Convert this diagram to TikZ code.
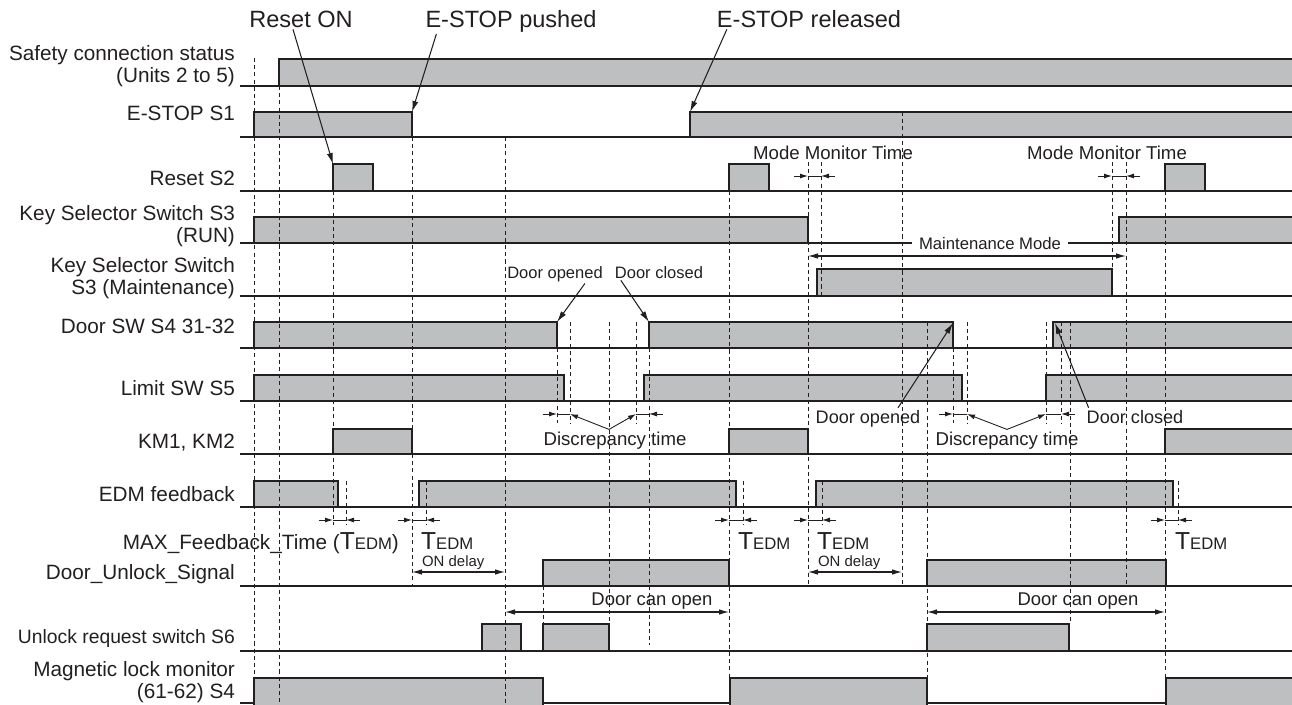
\documentclass[tikz,border=0pt]{standalone}
\usepackage{fontspec}
\setmainfont{Liberation Sans}
\usepackage{tikz}
\usetikzlibrary{arrows.meta, positioning}
\definecolor{pulsegray}{RGB}{190,191,193}
\definecolor{inkgray}{RGB}{35,31,32}

% T with small EDM
\newcommand{\tedm}{{\fontsize{14}{14}\selectfont T}{\fontsize{9.5}{10}\selectfont EDM}}
% arrows pointing in on two guide lines
\newcommand{\gapmark}[2]{%
  \draw[gaparrow] ([xshift=-0.28cm]#1) -- (#1);
  \draw[gapline] (#1) -- (#2);
  \draw[gaparrow] ([xshift=0.28cm]#2) -- (#2);}

\begin{document}
\begin{tikzpicture}[
    x=0.02cm, y=-0.02cm,
    font=\fontsize{11.8}{12.2}\selectfont,
    rowlabel/.style={anchor=base east, align=right, inner sep=1pt, text=inkgray},
    tag/.style={inner sep=1pt, text=inkgray},
    pulse/.style={draw=inkgray, fill=pulsegray, line width=0.7pt},
    rowline/.style={draw=inkgray, line width=0.8pt},
    guide/.style={draw=inkgray, line width=0.5pt, dash pattern=on 2.3pt off 1.8pt},
    leader/.style={-{Latex[length=2.2mm, width=1.2mm]}, draw=inkgray, line width=0.6pt},
    gaparrow/.style={-{Latex[length=1.6mm, width=1mm]}, draw=inkgray, line width=0.5pt},
    gapline/.style={draw=inkgray, line width=0.5pt},
    span/.style={{Latex[length=2mm, width=1.1mm]}-{Latex[length=2mm, width=1.1mm]}, draw=inkgray, line width=0.6pt},
]
\useasboundingbox (0,0) rectangle (1292,704);

% Row labels (base = last line)
\node[rowlabel] (lSafety) at (237,82) {Safety connection status\\(Units 2 to 5)};
\node[rowlabel] (lEstop) at (237,120) {E-STOP S1};
\node[rowlabel] (lReset) at (237,185) {Reset S2};
\node[rowlabel] (lRun) at (237,242) {Key Selector Switch S3\\(RUN)};
\node[rowlabel] (lMaint) at (237,294) {Key Selector Switch\\S3 (Maintenance)};
\node[rowlabel] (lDoor) at (237,333) {Door SW S4 31-32};
\node[rowlabel] (lLimit) at (237,395) {Limit SW S5};
\node[rowlabel] (lKm) at (237,448) {KM1, KM2};
\node[rowlabel] (lEdm) at (237,501) {EDM feedback};
\node[rowlabel] (lMaxfb) at (401,549) {MAX\_Feedback\_Time (\tedm)};
\node[rowlabel] (lUnlock) at (237,579) {Door\_Unlock\_Signal};
\node[rowlabel, font=\fontsize{11}{12}\selectfont] (lReq) at (237,643) {Unlock request switch S6};
\node[rowlabel] (lMag) at (237,698) {Magnetic lock monitor\\(61-62) S4};

% Row base lines
\draw[rowline] (240,86) -- (1292,86);
\draw[rowline] (240,137) -- (1292,137);
\draw[rowline] (240,191) -- (1292,191);
\draw[rowline] (240,243) -- (1292,243);
\draw[rowline] (240,296) -- (1292,296);
\draw[rowline] (240,348) -- (1292,348);
\draw[rowline] (240,401) -- (1292,401);
\draw[rowline] (240,454) -- (1292,454);
\draw[rowline] (240,507) -- (1292,507);
\draw[rowline] (240,586) -- (1292,586);
\draw[rowline] (240,651) -- (1292,651);
\draw[rowline] (240,703) -- (1292,703);

% Signal pulses
\draw[pulse] (279,59) rectangle (1296,86);
\draw[pulse] (254,112) rectangle (412,137);
\draw[pulse] (690,112) rectangle (1296,137);
\draw[pulse] (333,164) rectangle (373,191);
\draw[pulse] (729,164) rectangle (769,191);
\draw[pulse] (1165,164) rectangle (1205,191);
\draw[pulse] (254,217) rectangle (808,243);
\draw[pulse] (1119,217) rectangle (1296,243);
\draw[pulse] (817,269) rectangle (1112,296);
\draw[pulse] (254,322) rectangle (557,348);
\draw[pulse] (649,322) rectangle (953,348);
\draw[pulse] (1053,322) rectangle (1296,348);
\draw[pulse] (254,375) rectangle (564,401);
\draw[pulse] (644,375) rectangle (962,401);
\draw[pulse] (1046,375) rectangle (1296,401);
\draw[pulse] (333,429) rectangle (412,454);
\draw[pulse] (729,429) rectangle (808,454);
\draw[pulse] (1165,429) rectangle (1296,454);
\draw[pulse] (254,481) rectangle (338,507);
\draw[pulse] (419,481) rectangle (736,507);
\draw[pulse] (816,481) rectangle (1173,507);
\draw[pulse] (543,560) rectangle (729,586);
\draw[pulse] (927,560) rectangle (1166,586);
\draw[pulse] (482,624) rectangle (521,651);
\draw[pulse] (543,624) rectangle (609,651);
\draw[pulse] (927,624) rectangle (1069,651);
\draw[pulse] (254,678) rectangle (543,706);
\draw[pulse] (730,678) rectangle (927,706);
\draw[pulse] (1166,678) rectangle (1296,706);

% Timing guide lines
\draw[guide] (254,58) -- (254,704);
\draw[guide] (279,86) -- (279,704);
\draw[guide] (333,191) -- (333,525);
\draw[guide] (346,481) -- (346,525);
\draw[guide] (412,137) -- (412,586);
\draw[guide] (426,481) -- (426,525);
\draw[guide] (505,137) -- (505,704);
\draw[guide] (543,586) -- (543,624);
\draw[guide] (557,348) -- (557,423);
\draw[guide] (570,322) -- (570,423);
\draw[guide] (609,322) -- (609,624);
\draw[guide] (636,322) -- (636,423);
\draw[guide] (649,348) -- (649,645);
\draw[guide] (729,191) -- (729,704);
\draw[guide] (743,481) -- (743,525);
\draw[guide] (808,162) -- (808,586);
\draw[guide] (821,162) -- (821,296);
\draw[guide] (822,481) -- (822,525);
\draw[guide] (902,112) -- (902,586);
\draw[guide] (927,322) -- (927,704);
\draw[guide] (953,348) -- (953,423);
\draw[guide] (967,322) -- (967,423);
\draw[guide] (1046,322) -- (1046,423);
\draw[guide] (1061,322) -- (1061,423);
\draw[guide] (1070,322) -- (1070,624);
\draw[guide] (1112,162) -- (1112,296);
\draw[guide] (1126,162) -- (1126,586);
\draw[guide] (1165,191) -- (1165,704);
\draw[guide] (1178,481) -- (1178,525);

% Event callouts
\node[tag, font=\fontsize{13.4}{14}\selectfont, anchor=base] (resetOn) at (301,27) {Reset ON};
\node[tag, font=\fontsize{13.4}{14}\selectfont, anchor=base] (estopPush) at (511,27) {E-STOP pushed};
\node[tag, font=\fontsize{13.4}{14}\selectfont, anchor=base] (estopRel) at (809,27) {E-STOP released};
\coordinate (resetEdge) at (333,164);
\coordinate (pushEdge) at (412,112);
\coordinate (relEdge) at (690,112);
\draw[leader] ([xshift=-0.16cm]resetOn.south) -- (resetEdge);
\draw[leader] ([xshift=0.26cm]estopPush.south west) -- (pushEdge);
\draw[leader] ([xshift=0.24cm]estopRel.south west) -- (relEdge);

% Mode monitor time
\node[tag, font=\fontsize{10.6}{11}\selectfont, anchor=base] (modeA) at (833,159) {Mode Monitor Time};
\node[tag, font=\fontsize{10.6}{11}\selectfont, anchor=base] (modeB) at (1107,159) {Mode Monitor Time};
\coordinate (mmA1) at (808,176);
\coordinate (mmA2) at (821,176);
\coordinate (mmB1) at (1112,176);
\coordinate (mmB2) at (1126,176);
\gapmark{mmA1}{mmA2}
\gapmark{mmB1}{mmB2}

% Maintenance mode span
\node[tag, font=\fontsize{9.5}{10}\selectfont, anchor=base, fill=white, inner xsep=4pt] (maintMode) at (990,249) {Maintenance Mode};
\coordinate (mtA) at (808,256);
\coordinate (mtB) at (1126,256);
\draw[span] (mtA) -- (mtB);

% Door opened / closed, first cycle
\node[tag, font=\fontsize{9.4}{10}\selectfont, anchor=base] (doorOpenA) at (555,278) {Door opened};
\node[tag, font=\fontsize{9.4}{10}\selectfont, anchor=base] (doorCloseA) at (659,278) {Door closed};
\coordinate (openEdgeA) at (557,322);
\coordinate (closeEdgeA) at (649,322);
\draw[leader] ([xshift=-0.4cm]doorOpenA.south east) -- (openEdgeA);
\draw[leader] ([xshift=0.16cm]doorCloseA.south west) -- (closeEdgeA);

% Door opened / closed, second cycle
\node[tag, font=\fontsize{10.3}{11}\selectfont, anchor=base] (doorOpenB) at (868,423) {Door opened};
\node[tag, font=\fontsize{10.3}{11}\selectfont, anchor=base] (doorCloseB) at (1135,423) {Door closed};
\coordinate (openEdgeB) at (953,323);
\coordinate (closeEdgeB) at (1055,323);
\draw[leader] ([xshift=0.6cm]doorOpenB.north) -- (openEdgeB);
\draw[leader] ([xshift=0.08cm]doorCloseB.north west) -- (closeEdgeB);

% Discrepancy time
\node[tag, font=\fontsize{10.6}{11}\selectfont, anchor=base] (discA) at (615,445) {Discrepancy time};
\node[tag, font=\fontsize{10.6}{11}\selectfont, anchor=base] (discB) at (1007,445) {Discrepancy time};
\coordinate (dsA1) at (557,414);
\coordinate (dsA2) at (570,414);
\coordinate (dsA3) at (636,414);
\coordinate (dsA4) at (649,414);
\draw[gaparrow] ([xshift=-0.28cm]dsA1) -- (dsA1);
\draw[gapline] (dsA1) -- (dsA2);
\draw[gapline] (dsA3) -- (dsA4);
\draw[gaparrow] ([xshift=0.28cm]dsA4) -- (dsA4);
\draw[gaparrow] ([xshift=-0.12cm]discA.north) -- (dsA2);
\draw[gaparrow] ([xshift=-0.12cm]discA.north) -- (dsA3);
\coordinate (dsB1) at (953,414);
\coordinate (dsB2) at (967,414);
\coordinate (dsB3) at (1046,414);
\coordinate (dsB4) at (1061,414);
\draw[gaparrow] ([xshift=-0.28cm]dsB1) -- (dsB1);
\draw[gapline] (dsB1) -- (dsB2);
\draw[gapline] (dsB3) -- (dsB4);
\draw[gaparrow] ([xshift=0.28cm]dsB4) -- (dsB4);
\draw[gaparrow] (discB.north) -- (dsB2);
\draw[gaparrow] (discB.north) -- (dsB3);

% EDM feedback time
\coordinate (tdA1) at (333,520);
\coordinate (tdA2) at (346,520);
\coordinate (tdB1) at (412,520);
\coordinate (tdB2) at (426,520);
\coordinate (tdC1) at (729,520);
\coordinate (tdC2) at (743,520);
\coordinate (tdD1) at (808,520);
\coordinate (tdD2) at (822,520);
\coordinate (tdE1) at (1165,520);
\coordinate (tdE2) at (1178,520);
\gapmark{tdA1}{tdA2}
\gapmark{tdB1}{tdB2}
\gapmark{tdC1}{tdC2}
\gapmark{tdD1}{tdD2}
\gapmark{tdE1}{tdE2}
\node[tag, anchor=base west] (tedmB) at (419,549) {\tedm};
\node[tag, anchor=base west] (tedmC) at (736,549) {\tedm};
\node[tag, anchor=base west] (tedmD) at (815,549) {\tedm};
\node[tag, anchor=base west] (tedmE) at (1173,549) {\tedm};

% ON delay
\node[tag, font=\fontsize{8.5}{9}\selectfont, anchor=base west] (onDelayA) at (420,566) {ON delay};
\node[tag, font=\fontsize{8.5}{9}\selectfont, anchor=base west] (onDelayB) at (816,566) {ON delay};
\coordinate (onA1) at (412,572);
\coordinate (onA2) at (505,572);
\coordinate (onB1) at (808,572);
\coordinate (onB2) at (902,572);
\draw[span] (onA1) -- (onA2);
\draw[span] (onB1) -- (onB2);

% Door can open
\node[tag, font=\fontsize{10.5}{11}\selectfont, anchor=base] (canOpenA) at (652,605) {Door can open};
\node[tag, font=\fontsize{10.5}{11}\selectfont, anchor=base] (canOpenB) at (1078,605) {Door can open};
\coordinate (coA1) at (505,612);
\coordinate (coA2) at (729,612);
\coordinate (coB1) at (927,612);
\coordinate (coB2) at (1165,612);
\draw[span] (coA1) -- (coA2);
\draw[span] (coB1) -- (coB2);
\end{tikzpicture}
\end{document}
